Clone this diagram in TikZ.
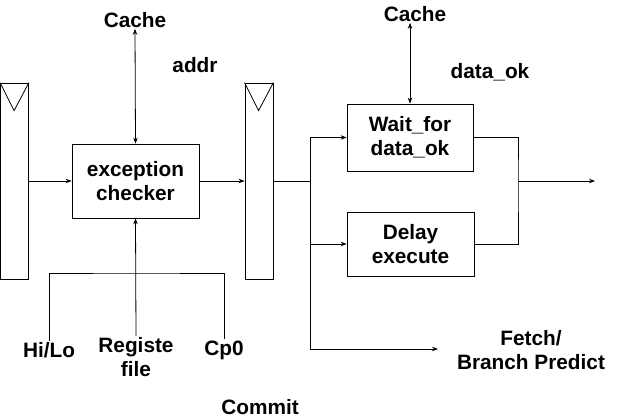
\documentclass[tikz,border=0pt]{standalone}
\usepackage{fontspec}
\setmainfont{Liberation Sans}
\usetikzlibrary{arrows.meta}

\tikzset{
  every node/.style={font=\fontsize{20.8}{24}\selectfont\bfseries, align=center},
  wire/.style={line width=0.8pt},
  unit/.style={draw, wire, inner sep=0pt},
  pipereg/.style={draw, wire, minimum width=28pt, minimum height=196pt, inner sep=0pt},
  tag/.style={inner sep=1pt},
  >={Stealth[length=6pt,width=4.5pt]}
}

\begin{document}
\begin{tikzpicture}[x=1pt,y=-1pt]
\useasboundingbox (0,0) rectangle (624,418);

% pipeline registers
\node [pipereg] (reg1) at (14.5,181) {};
\node [pipereg] (reg2) at (259,181) {};
\draw [wire] (reg1.north west) -- ++(14,28) -- (reg1.north east);
\draw [wire] (reg2.north west) -- ++(14,28) -- (reg2.north east);

% units
\node [unit, minimum width=127pt, minimum height=74pt] (exc) at (135.5,181) {exception\\checker};
\node [unit, minimum width=126pt, minimum height=67pt] (wait) at (410,137.5) {Wait\_for\\data\_ok};
\node [unit, minimum width=127pt, minimum height=64pt] (delay) at (410.5,244) {Delay\\execute};

% texts
\node [tag] (cacheA) at (135,20) {Cache};
\node [tag] (addr) at (195,65) {addr};
\node [tag] (cacheB) at (415,14) {Cache};
\node [tag] (dataok) at (490,72) {data\_ok};
\node [tag] (hilo) at (49,350) {Hi/Lo};
\node [tag] (regfile) at (136,357) {Registe\\file};
\node [tag] (cpzero) at (224,350) {Cp0};
\node [tag] (commit) at (260,407) {Commit};
\node [tag] (fetch) at (531,350) {Fetch/\\Branch Predict};

\coordinate (split) at (310,181);
\coordinate (join) at (518,181);
\coordinate (out) at (595,181);
\coordinate (fetchin) at (438,349);
\coordinate (bus) at (136,273);

\draw [wire, <->] (cacheA.south) -- (exc.north);
\draw [wire, <->] (wait.north |- cacheB.south) -- (wait.north);
\draw [wire, ->] (reg1.east) -- (exc.west);
\draw [wire, ->] (exc.east) -- (reg2.west);
\draw [wire] (reg2.east) -- (split);
\draw [wire, ->] (split) |- (wait.west);
\draw [wire, ->] (split) |- (delay.west);
\draw [wire, ->] (split) |- (fetchin);
\draw [wire] (wait.east) -| (join) |- (delay.east);
\draw [wire, ->] (join) -- (out);
\draw [wire, ->] (regfile.north) -- (exc.south);
\draw [wire] (hilo.north) |- (bus) -| (cpzero.north);
\end{tikzpicture}
\end{document}
